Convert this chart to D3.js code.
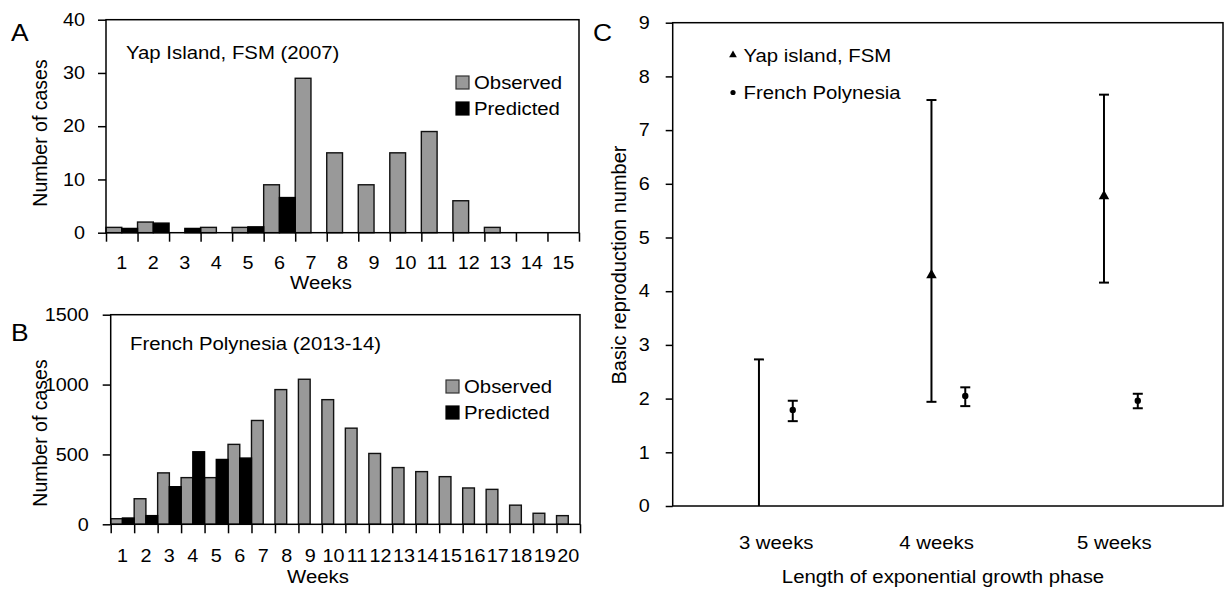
<!DOCTYPE html>
<html>
<head>
<meta charset="utf-8">
<script src="https://cdn.jsdelivr.net/npm/d3@7"></script>
<style>
  body { margin: 0; background: #fff; }
  text { font-family: "Liberation Sans", Arial, sans-serif; fill: #000; }
</style>
</head>
<body>
<div id="chart"></div>
<script>
const width = 1226;
const height = 590;

// Panel A: Yap Island
const weeksYap = ["1","2","3","4","5","6","7","8","9","10","11","12","13","14","15"];
const yapObserved = [1, 2, 0, 1, 1, 9, 29, 15, 9, 15, 19, 6, 1, 0, 0];
const yapPredicted = [0.8, 1.8, 0.8, 0, 1.1, 6.6];

// Panel B: French Polynesia
const weeksFP = ["1","2","3","4","5","6","7","8","9","10","11","12","13","14","15","16","17","18","19","20"];
const fpObserved = [40, 183, 368, 334, 334, 572, 743, 964, 1038, 892, 688, 507, 406, 377, 341, 260, 250, 137, 79, 62];
const fpPredicted = [45, 62, 269, 519, 464, 474];

// Panel C: basic reproduction number
const phases = ["3 weeks", "4 weeks", "5 weeks"];
const yapR0 = [null, 4.30, 5.77];
const yapLow = [0, 1.94, 4.16];
const yapHigh = [2.73, 7.56, 7.66];
const fpR0 = [1.79, 2.05, 1.96];
const fpLow = [1.58, 1.86, 1.82];
const fpHigh = [1.96, 2.21, 2.09];

const SX = 1.1; // the source picture is slightly stretched horizontally
const TICK = 18;

const svg = d3.select("#chart").append("svg")
    .attr("width", width)
    .attr("height", height)
    .attr("viewBox", [0, 0, width, height]);

// text helper, centred vertically on y
function label(g, txt, x, y, size, anchor = "start", rotate = false) {
    const tr = rotate ? `translate(${x},${y}) rotate(-90)` : `translate(${x},${y}) scale(${SX},1)`;
    return g.append("text")
        .attr("transform", tr)
        .attr("text-anchor", anchor)
        .attr("dominant-baseline", "central")
        .style("font-size", size + "px")
        .text(txt);
}

function styleAxis(axisG, size) {
    axisG.attr("font-size", size).attr("font-family", null);
    axisG.selectAll("line").attr("stroke", "#000").attr("stroke-width", 1.5);
    axisG.select(".domain").remove();
    axisG.selectAll("text").each(function() {
        const t = d3.select(this);
        const x = +t.attr("x") || 0, y = +t.attr("y") || 0;
        t.attr("x", 0).attr("y", 0).attr("transform", `translate(${x},${y}) scale(${SX},1)`);
    });
}

function barPanel(o) {
    const g = svg.append("g");
    const x = d3.scaleBand().domain(o.cats).range([o.left, o.right]);
    const y = d3.scaleLinear().domain([0, o.yMax]).range([o.bottom, o.top]);
    const half = x.bandwidth() / 2;

    const obs = o.obs.map((v, i) => ({ v, c: o.cats[i] })).filter(d => d.v > 0);
    const pred = o.pred.map((v, i) => ({ v, c: o.cats[i] })).filter(d => d.v > 0);

    g.append("g").selectAll("rect").data(obs).join("rect")
        .attr("x", d => x(d.c))
        .attr("y", d => y(d.v))
        .attr("width", half)
        .attr("height", d => y(0) - y(d.v))
        .attr("fill", "#999")
        .attr("stroke", "#111")
        .attr("stroke-width", 1.4);

    g.append("g").selectAll("rect").data(pred).join("rect")
        .attr("x", d => x(d.c) + half)
        .attr("y", d => y(d.v))
        .attr("width", half)
        .attr("height", d => y(0) - y(d.v))
        .attr("fill", "#000")
        .attr("stroke", "#000")
        .attr("stroke-width", 1.4);

    // plot frame
    g.append("rect")
        .attr("x", o.left).attr("y", o.top)
        .attr("width", o.right - o.left).attr("height", o.bottom - o.top)
        .attr("fill", "none").attr("stroke", "#000").attr("stroke-width", 1.5);

    const ya = g.append("g").attr("transform", `translate(${o.left},0)`)
        .call(d3.axisLeft(y).tickValues(o.yTicks).tickFormat(d3.format("d")).tickSize(8).tickPadding(o.yPad));
    styleAxis(ya, TICK);

    // tick marks on the category boundaries
    const xb = d3.scaleLinear().domain([0, o.cats.length]).range([o.left, o.right]);
    const xt = g.append("g").attr("transform", `translate(0,${o.bottom})`)
        .call(d3.axisBottom(xb).tickValues(d3.range(o.cats.length + 1)).tickSize(9).tickFormat(""));
    styleAxis(xt, TICK);

    const xl = g.append("g").attr("transform", `translate(0,${o.bottom})`)
        .call(d3.axisBottom(x).tickSize(0).tickPadding(o.xPad));
    styleAxis(xl, TICK);

    label(g, o.title, o.titleX, o.titleY, 18.5);
    label(g, "Weeks", o.weeksX, o.weeksY, 18.5, "middle");
    label(g, "Number of cases", o.yTitleX, o.yTitleY, 19.5, "middle", true);
    label(g, o.letter, 11, o.letterY, 24);

    // legend
    [["Observed", "#999", "#333"], ["Predicted", "#000", "#000"]].forEach((d, i) => {
        const yy = o.legY + i * 26;
        g.append("rect").attr("x", o.legX).attr("y", yy - 6.5).attr("width", 13).attr("height", 13)
            .attr("fill", d[1]).attr("stroke", d[2]).attr("stroke-width", 1.2);
        label(g, d[0], o.legX + 18, yy, 18.5);
    });
}

barPanel({
    cats: weeksYap, obs: yapObserved, pred: yapPredicted,
    left: 106, right: 579, top: 19.7, bottom: 232.7,
    yMax: 40, yTicks: [0, 10, 20, 30, 40], yPad: 13, xPad: 24,
    title: "Yap Island, FSM (2007)", titleX: 126, titleY: 52.7,
    weeksX: 321, weeksY: 282, yTitleX: 40, yTitleY: 133,
    letter: "A", letterY: 32, legX: 456, legY: 82.5
});

barPanel({
    cats: weeksFP, obs: fpObserved, pred: fpPredicted,
    left: 110.7, right: 580, top: 314.7, bottom: 524.3,
    yMax: 1500, yTicks: [0, 500, 1000, 1500], yPad: 14, xPad: 25,
    title: "French Polynesia (2013-14)", titleX: 130, titleY: 343.3,
    weeksX: 318, weeksY: 576, yTitleX: 40, yTitleY: 433,
    letter: "B", letterY: 332, legX: 446, legY: 386.5
});

// Panel C
const gC = svg.append("g");
const cLeft = 672.7, cRight = 1223, cTop = 22.7, cBottom = 506;
const xC = d3.scaleLinear().domain([-0.5, 2.69]).range([cLeft, cRight]);
const yC = d3.scaleLinear().domain([0, 9]).range([cBottom, cTop]);
const fpOffset = 0.196;
const labelOffset = [0.1, 1.03, 2.06];
const cap = 5;

gC.append("rect")
    .attr("x", cLeft).attr("y", cTop)
    .attr("width", cRight - cLeft).attr("height", cBottom - cTop)
    .attr("fill", "none").attr("stroke", "#000").attr("stroke-width", 1.5);

const yaC = gC.append("g").attr("transform", `translate(${cLeft},0)`)
    .call(d3.axisLeft(yC).tickValues(d3.range(0, 10)).tickSize(7).tickPadding(16));
styleAxis(yaC, TICK);

function errorBars(px, lo, hi) {
    const eg = gC.append("g").attr("stroke", "#000").attr("stroke-width", 2);
    eg.selectAll(".v").data(px).join("line")
        .attr("x1", d => d).attr("x2", d => d)
        .attr("y1", (d, i) => yC(lo[i])).attr("y2", (d, i) => yC(hi[i]));
    eg.selectAll(".hi").data(px).join("line")
        .attr("x1", d => d - cap).attr("x2", d => d + cap)
        .attr("y1", (d, i) => yC(hi[i])).attr("y2", (d, i) => yC(hi[i]));
    eg.selectAll(".lo").data(px.filter((d, i) => lo[i] > 0)).join("line")
        .attr("x1", d => d - cap).attr("x2", d => d + cap)
        .attr("y1", d => yC(lo[px.indexOf(d)])).attr("y2", d => yC(lo[px.indexOf(d)]));
}

const yapX = phases.map((p, i) => xC(i));
const fpX = phases.map((p, i) => xC(i + fpOffset));
errorBars(yapX, yapLow, yapHigh);
errorBars(fpX, fpLow, fpHigh);

const tri = d3.symbol(d3.symbolTriangle, 48)();
gC.selectAll(".yap").data(yapR0.map((v, i) => ({ v, x: yapX[i] })).filter(d => d.v != null)).join("path")
    .attr("d", tri)
    .attr("transform", d => `translate(${d.x},${yC(d.v)})`)
    .attr("fill", "#000");
gC.selectAll(".fp").data(fpR0.map((v, i) => ({ v, x: fpX[i] }))).join("circle")
    .attr("cx", d => d.x).attr("cy", d => yC(d.v)).attr("r", 3.2)
    .attr("fill", "#000");

phases.forEach((p, i) => label(gC, p, xC(labelOffset[i]), 542, 18.5, "middle"));
label(gC, "Length of exponential growth phase", 943, 576, 18.5, "middle");
label(gC, "Basic reproduction number", 619, 265, 20, "middle", true);
label(gC, "C", 593, 32.6, 24);

// legend
gC.append("path").attr("d", d3.symbol(d3.symbolTriangle, 26)()).attr("transform", "translate(733,55)").attr("fill", "#000");
label(gC, "Yap island, FSM", 743.5, 55, 18.5);
gC.append("circle").attr("cx", 733).attr("cy", 92.5).attr("r", 2.6).attr("fill", "#000");
label(gC, "French Polynesia", 743.5, 92.5, 18.5);
</script>
</body>
</html>
